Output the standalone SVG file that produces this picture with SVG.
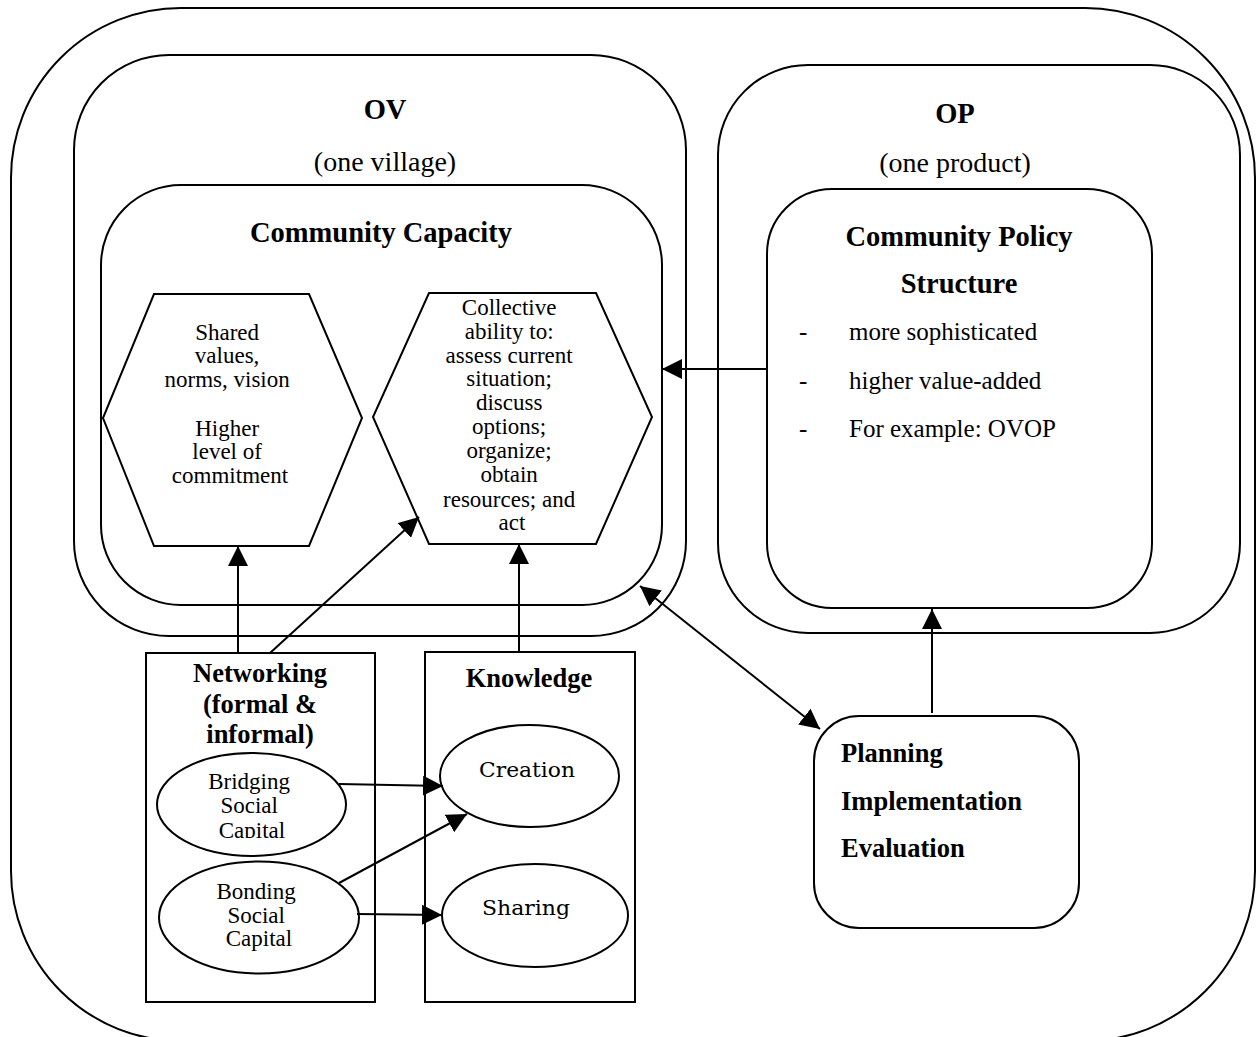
<svg xmlns="http://www.w3.org/2000/svg" width="1259" height="1037" viewBox="0 0 1259 1037">
<defs>
<style>
.box{fill:none;stroke:#000;stroke-width:2}
.t{font-family:"Liberation Serif","Times New Roman",serif;fill:#000}
.r24{font-size:23px;text-anchor:middle}
.b26{font-size:26.5px;font-weight:bold}
.b28{font-size:28.5px;font-weight:bold;text-anchor:middle}
.r28{font-size:28px;text-anchor:middle}
.r25{font-size:25px}
.c{font-family:"DejaVu Serif",serif;font-size:21px;text-anchor:middle;fill:#000}
.conn{fill:none;stroke:#000;stroke-width:2}
</style>
<marker id="ah" markerUnits="userSpaceOnUse" markerWidth="20" markerHeight="20" viewBox="0 0 18 18" refX="18" refY="9" orient="auto-start-reverse">
<path d="M0,0 L18,9 L0,18 z" fill="#000"/>
</marker>
<clipPath id="clipB"><rect x="150" y="760" width="200" height="78"/></clipPath>
</defs>
<rect width="1259" height="1037" fill="#fff"/>
<g id="outer"><rect class="box" x="11" y="8" width="1244" height="1033" rx="170" ry="170"/></g>
<g id="ov">
<rect class="box" x="74" y="55" width="612" height="581" rx="95" ry="95"/>
<text class="t b28" x="385" y="119">OV</text>
<text class="t r28" x="385" y="171">(one village)</text>
</g>
<g id="op">
<rect class="box" x="718" y="65" width="522" height="568" rx="90" ry="90"/>
<text class="t b28" x="955" y="123">OP</text>
<text class="t r28" x="955" y="172">(one product)</text>
</g>
<g id="community-capacity">
<rect class="box" x="101" y="185" width="561" height="420" rx="80" ry="80"/>
<text class="t b28" x="381" y="242">Community Capacity</text>
</g>
<g id="shared-values">
<polygon class="box" points="154,294 309,294 362,418 309,546 154,546 103,418"/>
<text class="t r24" x="230">
<tspan x="230" y="340">Shared</tspan>
<tspan x="230" y="363">values,</tspan>
<tspan x="230" y="387">norms, vision</tspan>
<tspan x="230" y="436">Higher</tspan>
<tspan x="230" y="459">level of</tspan>
<tspan x="230" y="483">commitment</tspan>
</text>
</g>
<g id="collective-ability">
<polygon class="box" points="429,293 596,293 652,417 596,544 429,544 373,417"/>
<text class="t r24" x="512">
<tspan x="512" y="315">Collective</tspan>
<tspan x="512" y="339">ability to:</tspan>
<tspan x="512" y="363">assess current</tspan>
<tspan x="512" y="386">situation;</tspan>
<tspan x="512" y="410">discuss</tspan>
<tspan x="512" y="434">options;</tspan>
<tspan x="512" y="458">organize;</tspan>
<tspan x="512" y="482">obtain</tspan>
<tspan x="512" y="507">resources; and</tspan>
<tspan x="512" y="530">act</tspan>
</text>
</g>
<g id="community-policy-structure">
<rect class="box" x="767" y="189" width="385" height="419" rx="65" ry="65"/>
<text class="t b28" x="959" y="246">Community Policy</text>
<text class="t b28" x="959" y="293">Structure</text>
<text class="t r25" x="799" y="340">-</text>
<text class="t r25" x="849" y="340">more sophisticated</text>
<text class="t r25" x="799" y="389">-</text>
<text class="t r25" x="849" y="389">higher value-added</text>
<text class="t r25" x="799" y="437">-</text>
<text class="t r25" x="849" y="437">For example: OVOP</text>
</g>
<g id="planning">
<rect class="box" x="814" y="716" width="265" height="212" rx="45" ry="45"/>
<text class="t b26" x="841" y="762">Planning</text>
<text class="t b26" x="841" y="810">Implementation</text>
<text class="t b26" x="841" y="857">Evaluation</text>
</g>
<g id="networking">
<rect class="box" x="146" y="653" width="229" height="349"/>
<text class="t b26" text-anchor="middle" x="260" y="682">Networking</text>
<text class="t b26" text-anchor="middle" x="260" y="713">(formal &amp;</text>
<text class="t b26" text-anchor="middle" x="260" y="743">informal)</text>
</g>
<g id="bridging">
<ellipse class="box" cx="251.5" cy="804.5" rx="94.5" ry="51.5"/>
<text class="t r24" clip-path="url(#clipB)">
<tspan x="252" y="789">Bridging</tspan>
<tspan x="252" y="813">Social</tspan>
<tspan x="252" y="838">Capital</tspan>
</text>
</g>
<g id="bonding">
<ellipse class="box" cx="259" cy="917.5" rx="100" ry="56"/>
<text class="t r24">
<tspan x="259" y="899">Bonding</tspan>
<tspan x="259" y="923">Social</tspan>
<tspan x="259" y="946">Capital</tspan>
</text>
</g>
<g id="knowledge">
<rect class="box" x="425" y="652" width="210" height="350"/>
<text class="t b26" text-anchor="middle" x="529" y="687">Knowledge</text>
</g>
<g id="creation">
<ellipse class="box" cx="529.5" cy="776" rx="89.5" ry="51"/>
<text class="c" x="527" y="777" textLength="96" lengthAdjust="spacingAndGlyphs">Creation</text>
</g>
<g id="sharing">
<ellipse class="box" cx="535" cy="915.5" rx="93" ry="51.5"/>
<text class="c" x="526" y="915" textLength="88" lengthAdjust="spacingAndGlyphs">Sharing</text>
</g>
<g id="connectors">
<path class="conn" d="M767,369 L662,369" marker-end="url(#ah)"/>
<path class="conn" d="M932,713 L932,609" marker-end="url(#ah)"/>
<path class="conn" d="M640,586 L820,729" marker-start="url(#ah)" marker-end="url(#ah)"/>
<path class="conn" d="M238,653 L238,546" marker-end="url(#ah)"/>
<path class="conn" d="M270,653 L419,517" marker-end="url(#ah)"/>
<path class="conn" d="M519,652 L519,544" marker-end="url(#ah)"/>
<path class="conn" d="M339,784 L443,786" marker-end="url(#ah)"/>
<path class="conn" d="M339,883 L467,814" marker-end="url(#ah)"/>
<path class="conn" d="M357,914 L442,915" marker-end="url(#ah)"/>
</g>
</svg>
